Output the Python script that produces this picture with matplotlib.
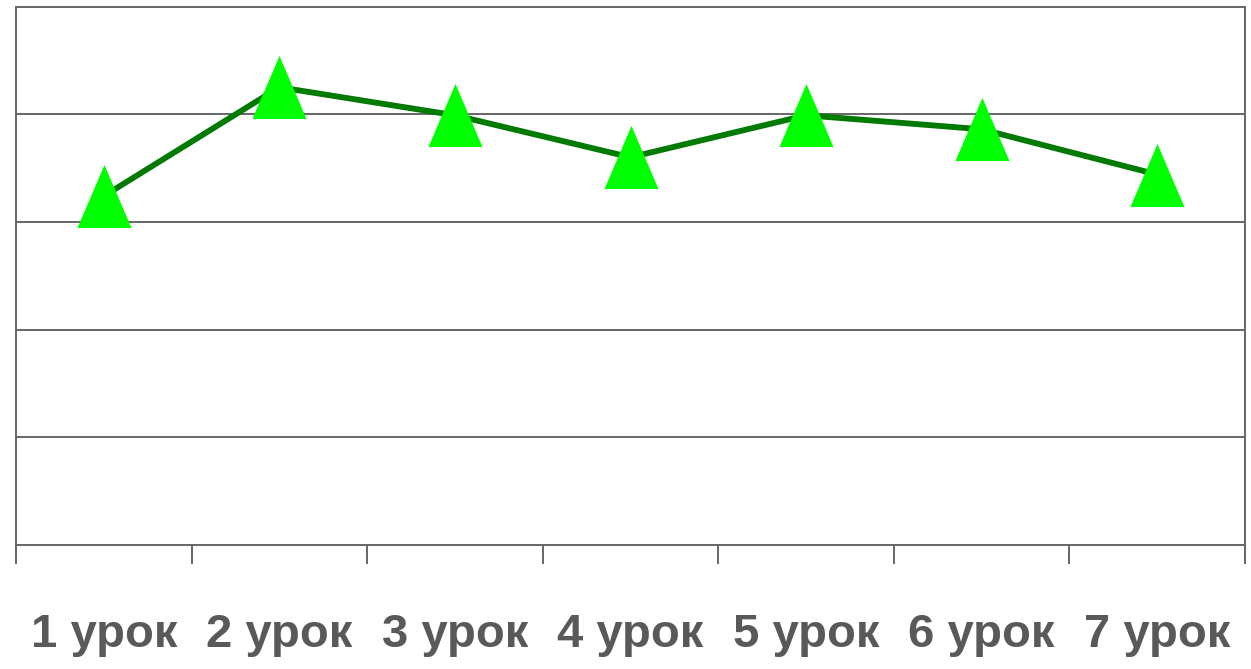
import matplotlib.pyplot as plt
import numpy as np

LESSONS = ["1 урок", "2 урок", "3 урок", "4 урок", "5 урок", "6 урок", "7 урок"]
SCORES = [3.24, 4.25, 3.99, 3.60, 3.99, 3.86, 3.44]

GRID = "#666666"
TEXT = "#595959"
LINE = "#007A00"
MARK = "#00FF00"


def main():
    fig = plt.figure(figsize=(12.51, 6.69), dpi=100)
    ax = fig.add_axes([16 / 1251, 124 / 669, 1229 / 1251, 538.5 / 669])

    x = np.arange(len(LESSONS)) + 0.5
    tri = [(0, 1), (-0.857, -1), (0.857, -1)]
    ax.plot(x, SCORES, color=LINE, linewidth=4.2, zorder=3)
    ax.plot(x, SCORES, linestyle="none", marker=tri, markersize=45.4,
            markerfacecolor=MARK, markeredgewidth=0, zorder=4)

    ax.set_xlim(0, len(LESSONS))
    ax.set_ylim(0, 5)
    ax.set_yticks([1, 2, 3, 4])
    ax.yaxis.grid(True, color=GRID, linewidth=1.4)
    ax.tick_params(axis="y", length=0, labelleft=False)

    ax.set_xticks(np.arange(len(LESSONS) + 1))
    ax.set_xticklabels([])
    ax.tick_params(axis="x", which="major", length=13.7, width=1.4,
                   color=GRID, direction="out")
    ax.set_xticks(x, minor=True)
    ax.set_xticklabels(LESSONS, minor=True, fontfamily="Liberation Sans",
                       fontweight="bold", fontsize=34, color=TEXT)
    ax.tick_params(axis="x", which="minor", length=0, pad=49)

    for s in ax.spines.values():
        s.set_color(GRID)
        s.set_linewidth(1.4)
    ax.set_axisbelow(True)

    fig.savefig("out.png", dpi=100)


if __name__ == "__main__":
    main()
